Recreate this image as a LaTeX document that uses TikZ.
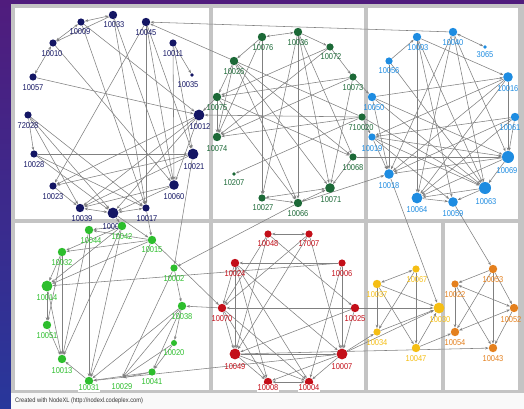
\documentclass[tikz,border=0pt]{standalone}
\usepackage{fontspec}
\newfontfamily\labfont{Liberation Sans}[FakeStretch=0.88]
\usetikzlibrary{arrows.meta}
\pgfdeclarelayer{back}\pgfdeclarelayer{mid}\pgfsetlayers{back,mid,main}
\definecolor{nv}{RGB}{20,22,100}
\definecolor{dg}{RGB}{28,105,55}
\definecolor{bl}{RGB}{30,140,225}
\definecolor{lg}{RGB}{45,190,45}
\definecolor{rd}{RGB}{195,15,25}
\definecolor{ye}{RGB}{245,190,20}
\definecolor{og}{RGB}{228,128,30}
\definecolor{edgegray}{RGB}{128,128,128}
\definecolor{cellgray}{RGB}{196,196,196}
\definecolor{purp}{RGB}{80,28,125}
\definecolor{blu}{RGB}{40,55,155}
\tikzset{
 dot/.style={circle,inner sep=0pt,draw=none},
 lab/.style={font=\labfont\fontsize{8.5}{8.5}\selectfont,inner sep=0pt},
 ed/.style={draw=edgegray,line width=0.55pt,-{Stealth[length=3.5pt,width=2.6pt]}},
 edd/.style={draw=edgegray,line width=0.55pt,{Stealth[length=3.5pt,width=2.6pt]}-{Stealth[length=3.5pt,width=2.6pt]}},
 cell/.style={fill=white,draw=none}
}
\newcommand\ND[7]{\node[dot,fill=#5,minimum size=1.2*#4pt] (n#1) at (#2,#3) {};
 \node[lab,text=#5] (l#1) at (#6,#7) {#1};}
\newcommand\NDW[7]{\node[dot,fill=#5,minimum size=1.2*#4pt] (n#1) at (#2,#3) {};
 \node[lab,text=#5,fill=white,inner sep=0.5pt] (l#1) at (#6,#7) {#1};}
\begin{document}
\begin{tikzpicture}[x=1pt,y=-1pt]
\useasboundingbox (0,0) rectangle (524,409);
\begin{pgfonlayer}{back}
\shade[top color=purp,bottom color=blu] (0,0) rectangle (524,409);
\fill[cellgray] (11,4) rectangle (524,393);
\fill[white!95!gray] (11,393) rectangle (524,409);
\fill[cell] (15,8) rectangle (209,219);
\fill[cell] (213,8) rectangle (364,219);
\fill[cell] (368,8) rectangle (518,219);
\fill[cell] (15,223) rectangle (209,390);
\fill[cell] (213,223) rectangle (364,390);
\fill[cell] (368,223) rectangle (441,390);
\fill[cell] (445,223) rectangle (518,390);
\end{pgfonlayer}
% navy
\ND{10033}{113}{15}{7}{nv}{114}{25}
\ND{10009}{81}{22}{6}{nv}{80}{32}
\ND{10045}{146}{22}{7}{nv}{146}{33}
\ND{10010}{53}{43}{6}{nv}{52}{54}
\ND{10011}{173}{43}{6}{nv}{173}{54}
\ND{10035}{192}{75}{3}{nv}{188}{85}
\ND{10057}{33}{77}{6}{nv}{33}{88}
\ND{10012}{199}{115}{9}{nv}{200}{127}
\ND{72028}{28}{115}{6}{nv}{28}{126}
\ND{10021}{193}{154}{9}{nv}{194}{167}
\ND{10028}{34}{154}{6}{nv}{34}{165}
\ND{10023}{53}{186}{6}{nv}{53}{197}
\ND{10060}{174}{185}{8}{nv}{174}{197}
\ND{10039}{80}{208}{7}{nv}{82}{219}
\ND{10001}{113}{213}{9}{nv}{113}{227}
\ND{10017}{146}{208}{6}{nv}{147}{219}
% dark green
\ND{10076}{262}{37}{7}{dg}{263}{48}
\ND{10036}{298}{32}{7}{dg}{298}{43}
\ND{10072}{330}{47}{6}{dg}{331}{57}
\ND{10026}{234}{61}{7}{dg}{234}{72}
\ND{10073}{353}{77}{6}{dg}{353}{88}
\ND{10075}{217}{97}{7}{dg}{217}{108}
\ND{710020}{362}{117}{6}{dg}{361}{128}
\ND{10074}{217}{137}{7}{dg}{217}{149}
\ND{10068}{353}{157}{6}{dg}{353}{168}
\ND{10207}{234}{174}{3}{dg}{234}{183}
\ND{10071}{330}{188}{8}{dg}{331}{200}
\ND{10027}{262}{198}{6}{dg}{263}{208}
\ND{10066}{298}{203}{7}{dg}{298}{214}
% blue
\ND{10003}{417}{37}{7}{bl}{418}{48}
\ND{10040}{453}{32}{7}{bl}{453}{43}
\ND{3065}{485}{47}{3}{bl}{485}{55}
\ND{10056}{389}{61}{6}{bl}{389}{71}
\ND{10016}{508}{77}{8}{bl}{508}{89}
\ND{10050}{372}{97}{7}{bl}{374}{108}
\ND{10061}{515}{117}{7}{bl}{510}{128}
\ND{10019}{372}{137}{6}{bl}{372}{149}
\ND{10069}{508}{157}{10}{bl}{507}{171}
\ND{10018}{389}{174}{8}{bl}{389}{186}
\ND{10063}{485}{188}{10}{bl}{486}{202}
\ND{10064}{417}{198}{9}{bl}{417}{210}
\ND{10059}{453}{202}{8}{bl}{453}{214}
% light green
\ND{10044}{89}{230}{7}{lg}{91}{241}
\ND{10042}{122}{226}{7}{lg}{122}{237}
\ND{10015}{152}{240}{7}{lg}{152}{250}
\ND{10032}{62}{252}{7}{lg}{62}{263}
\ND{10002}{174}{268}{6}{lg}{174}{279}
\ND{10014}{47}{286}{9}{lg}{47}{298}
\ND{10038}{182}{306}{7}{lg}{182}{317}
\ND{10051}{47}{325}{7}{lg}{47}{336}
\ND{10020}{174}{343}{5}{lg}{174}{353}
\ND{10013}{62}{359}{7}{lg}{62}{371}
\ND{10041}{152}{372}{6}{lg}{152}{382}
\NDW{10031}{89}{381}{7}{lg}{89}{388}
\node[dot,minimum size=2pt] (n10029) at (122,378) {};
\node[lab,text=lg] (l10029) at (122,387) {10029};
% red
\ND{10048}{268}{234}{6}{rd}{268}{244}
\ND{17007}{309}{234}{6}{rd}{309}{244}
\ND{10024}{235}{263}{7}{rd}{235}{274}
\ND{10006}{342}{263}{6}{rd}{342}{274}
\ND{10070}{222}{308}{7}{rd}{222}{319}
\ND{10025}{355}{308}{7}{rd}{355}{319}
\ND{10049}{235}{354}{9}{rd}{235}{367}
\ND{10007}{342}{354}{9}{rd}{342}{367}
\NDW{10008}{268}{382}{7}{rd}{268}{388}
\NDW{10004}{309}{382}{7}{rd}{309}{388}
% yellow
\ND{10067}{416}{269}{6}{ye}{417}{280}
\ND{10037}{377}{284}{7}{ye}{377}{295}
\ND{10030}{439}{308}{9}{ye}{440}{320}
\ND{10034}{377}{332}{6}{ye}{377}{343}
\ND{10047}{416}{348}{7}{ye}{416}{359}
% orange
\ND{10053}{493}{269}{7}{og}{493}{280}
\ND{10022}{455}{284}{6}{og}{455}{295}
\ND{10052}{514}{308}{7}{og}{511}{320}
\ND{10054}{455}{332}{7}{og}{455}{343}
\ND{10043}{493}{348}{7}{og}{493}{359}
\node[anchor=west,font=\labfont\fontsize{6.5}{6.5}\selectfont,text=black!80,inner sep=0pt] (credit) at (15,401) {Created with NodeXL (http://nodexl.codeplex.com)};
\begin{pgfonlayer}{mid}
\foreach \a/\b in {10033/10009,10009/10010,10010/10057,10039/10001,10001/10017,
 10076/10036,10071/10027,10066/10071,10040/3065,10048/17007,10008/10004,
 10067/10037,10022/10052,10052/10054}
 \draw[edd] (n\a) -- (n\b);
\foreach \a/\b in {10033/10010,10009/10012,10057/10012,10010/10060,10033/10017,10033/10060,10009/10017,
 10045/10023,10045/10060,10045/10021,10045/10017,10011/10035,10011/10021,10011/10060,
 72028/10028,72028/10017,72028/10001,72028/10039,10028/10021,10028/10017,10028/10001,
 10012/10023,10012/10039,10012/10001,10012/10060,10021/10023,10021/10039,10060/10001,10060/10039,
 10023/10039,10040/10045,710020/10045,710020/10012,10075/10012,10021/10002,
 10076/10026,10036/10072,10072/10073,10026/10075,10075/10074,10026/10074,10076/10074,10076/10027,
 10036/10066,10036/10027,10036/10071,10072/10074,10072/10075,10073/10075,10073/10074,
 10026/10071,10026/10066,10026/10068,10075/10068,10075/10066,710020/10074,710020/10207,
 10068/10071,10027/10066,10073/10071,10036/10068,
 10073/10050,710020/10019,710020/10063,10068/10069,10066/10018,10066/10002,
 10056/10003,10003/10016,10003/10064,10003/10059,10003/10063,10040/10064,10040/10018,10040/10063,
 10040/10069,10056/10018,10056/10063,10050/10016,10016/10018,10016/10019,10016/10064,
 10050/10018,10050/10069,10050/10063,10061/10019,10061/10018,10061/10064,10061/10069,
 10019/10069,10019/10063,10019/10059,10019/10018,10069/10018,10069/10064,10069/10063,10016/10069,
 10063/10064,10063/10059,10064/10059,10018/10030,10059/10053,
 10001/10042,10001/10015,10017/10015,10042/10044,10042/10032,10042/10014,10042/10013,
 10015/10044,10015/10032,10015/10014,10015/10031,10015/10070,10044/10013,10044/10031,
 10032/10014,10032/10051,10032/10013,10014/10051,10014/10013,10051/10013,10031/10013,
 10002/10038,10002/10029,10038/10020,10038/10031,10038/10029,10038/10041,10020/10041,
 10020/10029,10041/10029,10041/10031,10042/10031,10006/10014,10070/10038,10007/10031,
 10006/10024,10048/10070,10048/10049,10048/10025,17007/10070,17007/10049,17007/10007,
 10024/10070,10024/10049,10024/10008,10024/10004,10024/10007,10006/10007,10006/10004,
 10070/10049,10070/10008,10070/10004,10025/10070,10025/10007,10025/10049,10049/10007,
 10049/10004,10007/10008,10007/10004,10049/10008,10025/10030,10007/10034,10007/10030,10049/10043,
 10037/10030,10037/10034,10037/10047,10067/10034,10067/10047,10034/10030,10047/10030,10047/10054,
 10053/10022,10053/10054,10053/10043,10053/10052,10022/10054,10022/10043,10052/10043}
 \draw[ed] (n\a) -- (n\b);
\end{pgfonlayer}
\end{tikzpicture}
\end{document}
